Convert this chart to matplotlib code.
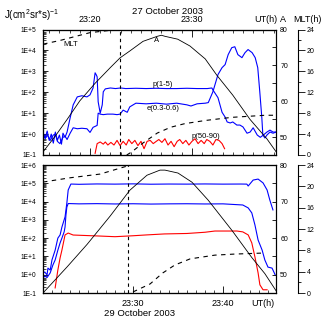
import numpy as np
import matplotlib
matplotlib.use('Agg')
import matplotlib.pyplot as plt
from matplotlib.ticker import FixedLocator, FuncFormatter, LogLocator, MultipleLocator, NullFormatter

plt.rcParams['font.family'] = 'Liberation Sans'
plt.rcParams['mathtext.fontset'] = 'custom'
plt.rcParams['mathtext.rm'] = 'Liberation Sans'
plt.rcParams['mathtext.default'] = 'regular'

nan = np.nan

# ---- top panel, 27 October 2003 (time = minutes after 23:00 UT) ----
top_a_t = [15.4, 16.6, 17.75, 19.0, 20.5, 22.0, 22.95, 23.9, 25.2, 26.6, 27.0, 27.35, 28.6,
           29.8, 31.3, 32.45, 34.0, 35.7, 37.35, 38.25]
top_a = [45.9, 50.3, 54.9, 60.1, 65.0, 69.4, 72.1, 74.0, 76.7, 78.1, 78.4, 78.1, 77.3,
         75.4, 71.8, 67.2, 61.7, 54.9, 49.5, 45.9]

top_mlt_t = [15.4, 17.05, 20.0, 22.7, nan, 23.6, 24.1, 25.2, 26.6, 27.9, 29.3, 31.3, 33.9, 37.2, 38.25]
top_mlt = [21.2, 21.9, 23.4, 24.0, nan, 0.0, 0.6, 2.3, 4.2, 5.3, 6.0, 6.6, 7.2, 7.6, 7.6]

top_p15_t = [15.4, 15.6, 15.8, 16.0, 16.2, 16.4, 16.6, 16.8, 17.0, 17.2, 17.35, 17.55, 17.75,
             18.05, 18.35, 18.75, 19.2, 19.7, 20.0, 20.3, 20.5, 20.6, 20.7, 20.8, 21.0, 21.2,
             21.3, 21.5, 22.0, 22.5, 23.0, 23.5, 24.5, 25.5, 26.5, 27.5, 28.5, 29.5, 30.5,
             31.5, 31.95, 32.05, 32.55, 32.95, 33.25, 33.45, 33.75, 34.0, 34.4, 34.7, 35.0,
             35.4, 35.7, 36.0, 36.4, 36.7, 37.0, 37.35, 37.65, 37.95, 38.25]
top_p15 = [1.1, 0.65, 1.4, 0.5, 1.0, 0.37, 1.25, 0.5, 0.9, 0.33, 1.1, 0.7, 1.25,
           5.9, 25, 60, 68, 60, 75, 160, 850, 700, 550, 35, 10, 25,
           105, 145, 160, 150, 160, 150, 155, 150, 155, 150, 150, 155, 150,
           150, 160, 130, 55, 11, 6.5, 3.8, 3.4, 3.8, 2.7, 2.7, 2.2,
           1.1, 1.25, 2.0, 0.9, 0.7, 0.9, 1.25, 1.55, 1.25, 1.25]

top_e_t = [15.4, 15.6, 15.8, 16.1, 16.4, 16.6, 16.8, 17.05, 17.35, 17.55, 17.75, 18.05, 18.35,
           18.75, 19.2, 19.7, 20.0, 20.3, 20.7, 20.8, 21.0, 21.3, 21.7, 22.25, 22.65, 22.95,
           23.25, 23.65, 23.9, 24.5, 25.5, 26.5, 27.5, 28.5, 29.5, 29.9, 30.5, 31.3, 31.6,
           32.05, 32.55, 32.95, 33.25, 33.55, 33.9, 34.2, 34.5, 34.9, 35.2, 35.5, 35.9, 36.2,
           36.45, 36.65, 36.85, 36.95, 37.15, 37.35, 37.65, 37.95, 38.25]
top_e = [1.2, 0.6, 0.9, 0.5, 0.9, 1.0, 0.45, 0.35, 0.7, 0.8, 0.55, 1.1, 2.0,
         1.8, 1.9, 1.8, 1.2, 2.1, 2.6, 10, 9, 8.5, 9, 9, 8.5, 9,
         14, 11, 20, 30, 28, 30, 27, 30, 25, 22, 28, 30, 32,
         105, 700, 1500, 2100, 6300, 13500, 15000, 6300, 4500, 7800, 11000, 7800, 4500,
         1500, 105, 6, 0.9, 0.65, 0.9, 1.25, 1.1, 1.25]

top_p5090_t = [20.5, 20.7, 21.0, 21.3, 21.5, 21.75, 22.05, 22.35, 22.65, 22.95, 23.25, 23.55,
               23.8, 24.1, 24.4, 24.7, 25.0, 25.3, 25.6, 25.9, 26.2, 26.5, 26.75, 27.05, 27.35,
               27.65, 27.95, 28.25, 28.55, 28.8, 29.1, 29.4, 29.7, 30.0, 30.3, 30.6, 30.9,
               31.2, 31.45, 31.75, 32.05, 32.35, 32.65, 32.95, 33.2]
top_p5090 = [0.12, 0.35, 0.42, 0.33, 0.42, 0.3, 0.4, 0.3, 0.5, 0.28, 0.45, 0.3,
             0.55, 0.35, 0.5, 0.28, 0.45, 0.2, 0.45, 0.5, 0.35, 0.45, 0.55, 0.4, 0.6,
             0.3, 0.45, 0.25, 0.45, 0.55, 0.35, 0.5, 0.3, 0.45, 0.6, 0.35, 0.5,
             0.35, 0.55, 0.45, 0.3, 0.55, 0.5, 0.35, 0.2]
top_mark_t = 22.95
top_ut_labels = [20, 30]

# ---- bottom panel, 29 October 2003 ----
bot_a_t = [20.0, 22.7, 24.9, 27.45, 29.65, 31.55, 33.0, 33.55, 35.0, 36.55, 38.35, 41.0, 43.2, 44.65, 45.9]
bot_a = [45.0, 52.2, 58.3, 66.0, 73.1, 77.2, 78.6, 78.6, 77.8, 75.3, 70.4, 62.1, 54.7, 50.3, 45.6]

bot_mlt_t = [20.0, 23.0, 26.35, 29.35, 29.7, nan, 30.0, 31.9, 33.3, 34.65, 36.35, 39.1, 41.3, 44.65]
bot_mlt = [20.8, 21.6, 22.3, 23.8, 24.0, nan, 0.2, 1.7, 3.75, 5.25, 6.4, 7.1, 7.3, 7.5]

bot_hi_t = [20.0, 20.2, 20.45, 20.55, 20.8, 21.0, 21.35, 21.65, 21.9, 22.1, 22.45, 22.65, 22.8,
            23.1, 24.0, 26.0, 28.0, 30.0, 32.0, 34.0, 36.0, 38.0, 40.0, 42.0, 42.65, 42.8,
            43.35, 43.9, 44.45, 44.9, 45.2, 45.55]
bot_hi = [1.25, 1.4, 0.98, 2.3, 1.8, 6.5, 22, 100, 150, 400, 1450, 8300, 43000,
          91000, 88000, 92000, 90000, 93000, 89000, 91000, 90000, 92000, 90000, 91000, 90000, 71000,
          150000, 170000, 105000, 43000, 12300, 3500]

bot_mid_t = [20.0, 20.2, 20.45, 20.8, 21.1, 21.35, 21.65, 21.9, 22.1, 22.35, 22.45, 22.55, 22.65,
             22.8, 24.0, 26.0, 28.0, 30.0, 32.0, 34.0, 36.0, 38.0, 40.0, 42.2, 42.8, 43.2,
             43.55, 43.9, 44.35, 44.65, 45.0, 45.45, 45.8]
bot_mid = [0.66, 0.85, 0.7, 1.26, 3.4, 6.4, 22, 55, 100, 220, 410, 1850, 5000,
           7800, 7500, 7700, 7400, 7600, 7300, 7500, 7600, 7400, 7500, 6500, 4500, 2400,
           525, 79, 22, 6.4, 2.6, 2.3, 0.98]

bot_red_t = [21.35, 21.65, 21.9, 22.1, 22.45, 22.8, 23.35, 26.35, 28.0, 30.0, 31.5, 33.5,
             36.0, 38.0, 39.1, 41.55, 42.2, 42.8, 43.2, 43.55, 43.9, 44.1, 44.45, 44.9]
bot_red = [0.19, 1.8, 8.3, 22, 150, 190, 148, 130, 120, 135, 150, 170,
           180, 210, 245, 245, 220, 150, 55, 9.3, 1.26, 0.28, 0.15, 0.15]
bot_mark_t = 29.45
bot_ut_labels = [30, 40]

W, H = 329, 326
BLUE = '#0000ff'
RED = '#ff0000'


def px(x, y):
    return x / W, 1 - y / H


def flux_fmt(v, pos):
    return '1E%+d' % int(round(np.log10(v)))


def ut_fmt(v, pos):
    return '23:%02d' % int(round(v))


def setup_panel(ax, xlim, ylim, ut_labels):
    ax.set_yscale('log')
    ax.set_xlim(xlim)
    ax.set_ylim(ylim)
    ax.yaxis.set_major_locator(LogLocator(base=10, numticks=20))
    ax.yaxis.set_minor_locator(LogLocator(base=10, subs=np.arange(2, 10), numticks=20))
    ax.yaxis.set_major_formatter(FuncFormatter(flux_fmt))
    ax.yaxis.set_minor_formatter(NullFormatter())
    ax.xaxis.set_major_locator(FixedLocator(ut_labels))
    ax.xaxis.set_minor_locator(MultipleLocator(1))
    ax.xaxis.set_major_formatter(FuncFormatter(ut_fmt))
    ax.tick_params(axis='y', which='major', direction='in', length=3.5, width=0.6,
                   labelsize=4.8, pad=5, right=False)
    ax.tick_params(axis='y', which='minor', direction='in', length=1.8, width=0.5, right=False)
    ax.tick_params(axis='x', which='major', direction='in', length=5, width=0.6, labelsize=6.5, pad=4)
    ax.tick_params(axis='x', which='minor', direction='in', length=2.4, width=0.5)
    for s in ax.spines.values():
        s.set_linewidth(0.8)

    # A axis on the right spine
    axa = ax.twinx()
    axa.set_ylim(45, 80)
    axa.yaxis.set_major_locator(FixedLocator([50, 60, 70, 80]))
    axa.yaxis.set_minor_locator(FixedLocator([55, 65, 75]))
    axa.tick_params(axis='y', which='both', direction='in', length=3, width=0.6,
                    labelsize=5, pad=3)

    # MLT axis, detached to the right
    axm = ax.twinx()
    axm.set_ylim(0, 24)
    axm.spines['right'].set_position(('axes', 1.094))
    axm.spines['right'].set_linewidth(0.8)
    axm.yaxis.set_major_locator(MultipleLocator(4))
    axm.yaxis.set_minor_locator(MultipleLocator(2))
    axm.tick_params(axis='y', which='major', direction='out', length=5, width=0.6,
                    labelsize=5, pad=1.5)
    axm.tick_params(axis='y', which='minor', direction='out', length=2.3, width=0.6)
    return axa, axm


fig = plt.figure(figsize=(W / 100, H / 100), dpi=100)

ax1 = fig.add_axes([43 / W, 1 - 155 / H, 233 / W, 125.5 / H])
ax2 = fig.add_axes([43 / W, 1 - 293 / H, 233 / W, 128 / H])

a1, m1 = setup_panel(ax1, (15.39, 38.24), (1e-1, 1e5), top_ut_labels)
a2, m2 = setup_panel(ax2, (20.0, 45.89), (1e-1, 1e6), bot_ut_labels)

ax1.tick_params(axis='x', which='both', top=True, bottom=True, labeltop=True, labelbottom=False)
ax2.tick_params(axis='x', which='both', top=False, bottom=True)

# top panel curves
ax1.plot(top_p15_t, top_p15, color=BLUE, lw=0.8)
ax1.plot(top_e_t, top_e, color=BLUE, lw=0.8)
ax1.plot(top_p5090_t, top_p5090, color=RED, lw=0.8)
ax1.axvline(top_mark_t, color='k', lw=0.8, ls=(0, (3, 3)))
a1.plot(top_a_t, top_a, color='k', lw=0.6)
m1.plot(top_mlt_t, top_mlt, color='k', lw=0.8, ls=(0, (4, 4)))

# bottom panel curves
ax2.plot(bot_hi_t, bot_hi, color=BLUE, lw=0.8)
ax2.plot(bot_mid_t, bot_mid, color=BLUE, lw=0.8)
ax2.plot(bot_red_t, bot_red, color=RED, lw=0.8)
ax2.axvline(bot_mark_t, color='k', lw=0.8, ls=(0, (3, 3)))
a2.plot(bot_a_t, bot_a, color='k', lw=0.6)
m2.plot(bot_mlt_t, bot_mlt, color='k', lw=0.8, ls=(0, (4, 4)))

# header and labels
fig.text(*px(4, 15), 'J(cm$^2$sr*s)$^{-1}$', fontsize=7, ha='left', va='center')
fig.text(*px(167, 11), '27 October 2003', fontsize=6.8, ha='center', va='center')
fig.text(*px(266, 19), 'UT(h)', fontsize=6.5, ha='center', va='center')
fig.text(*px(283, 19), 'A', fontsize=6.5, ha='center', va='center')
fig.text(*px(307, 19), 'MLT(h)', fontsize=6.5, ha='center', va='center')
fig.text(*px(263, 303), 'UT(h)', fontsize=6.5, ha='center', va='center')
fig.text(*px(140, 314), '29 October 2003', fontsize=6.8, ha='center', va='center')

fig.text(*px(71, 45), 'MLT', fontsize=5.5, ha='center', va='center')
fig.text(*px(157, 40), 'A', fontsize=5.5, ha='center', va='center')
fig.text(*px(163, 84), 'p(1-5)', fontsize=5.5, ha='center', va='center')
fig.text(*px(163, 108), 'e(0.3-0.6)', fontsize=5.5, ha='center', va='center')
fig.text(*px(206, 136), 'p(50-90)', fontsize=5.5, ha='center', va='center')

fig.savefig('out.png', dpi=100)
